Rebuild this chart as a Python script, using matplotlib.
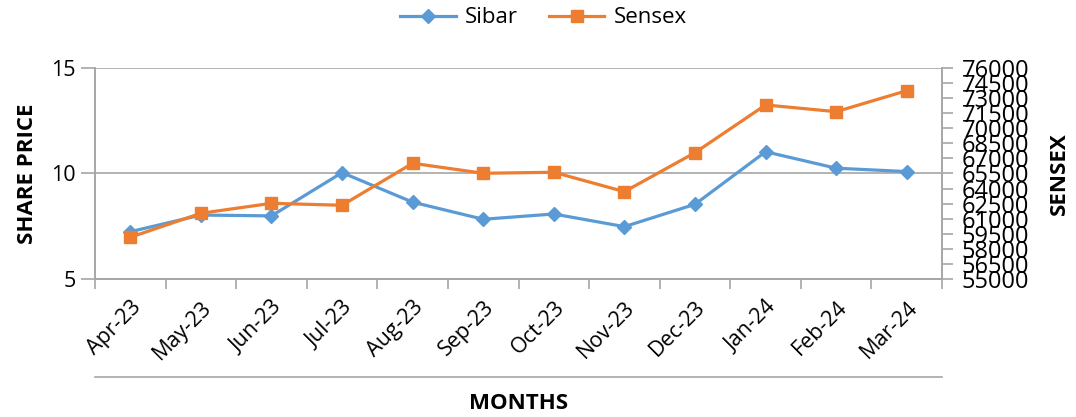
import numpy as np
import matplotlib.pyplot as plt
from matplotlib.lines import Line2D

plt.rcParams['font.family'] = ['Open Sans', 'DejaVu Sans']

months = ['Apr-23', 'May-23', 'Jun-23', 'Jul-23', 'Aug-23', 'Sep-23',
          'Oct-23', 'Nov-23', 'Dec-23', 'Jan-24', 'Feb-24', 'Mar-24']
sibar = [7.24, 8.03, 7.99, 10.04, 8.64, 7.83, 8.08, 7.48, 8.54, 11.03, 10.25, 10.09]
sensex = [59150, 61540, 62530, 62335, 66515, 65520, 65620, 63690, 67570, 72320, 71650, 73740]

blue = '#5B9BD5'
orange = '#ED7D31'
grey = '#A6A6A6'

fig = plt.figure(figsize=(10.76, 4.17), dpi=100)
ax = fig.add_axes([0.0883, 0.331, 0.7872, 0.506])
ax2 = ax.twinx()

x = np.arange(len(months))
l1, = ax.plot(x, sibar, color=blue, lw=2.3, marker='D', markersize=7.5, label='Sibar')
l2, = ax2.plot(x, sensex, color=orange, lw=2.3, marker='s', markersize=9, label='Sensex')

ax.set_xlim(-0.5, len(months) - 0.5)
ax.set_ylim(5, 15)
ax.set_yticks([5, 10, 15])
ax.yaxis.grid(True, color=grey, lw=1.2)
ax.set_axisbelow(True)

ax2.set_ylim(55000, 76000)
ax2.set_yticks(np.arange(55000, 76001, 1500))

# category ticks at boundaries, labels at centers
ax.set_xticks(x)
ax.set_xticklabels(months, rotation=45, ha='right', rotation_mode='anchor')
ax.set_xticks(np.arange(-0.5, len(months), 1), minor=True)
ax.tick_params(axis='x', which='major', length=0, pad=13, labelsize=15.5)
ax.tick_params(axis='x', which='minor', length=7, color=grey, width=1.2)
ax.tick_params(axis='y', length=10, color=grey, width=1.2, labelsize=15.5, pad=4)
ax2.tick_params(axis='y', length=8, color=grey, width=1.2, labelsize=17, pad=6)

for a in (ax, ax2):
    a.spines['top'].set_visible(False)
    for s in ('left', 'right', 'bottom'):
        a.spines[s].set_color(grey)
        a.spines[s].set_linewidth(1.2)

ax.set_ylabel('SHARE PRICE', fontsize=16, fontweight='bold', labelpad=9)
ax2.set_ylabel('SENSEX', fontsize=16, fontweight='bold', labelpad=14)
fig.text(0.482, 0.033, 'MONTHS', fontsize=16, fontweight='bold', ha='center', va='center')

fig.add_artist(Line2D([0.0883, 0.8755], [0.096, 0.096], color=grey, lw=1.2))

fig.legend(handles=[l1, l2], loc='center', bbox_to_anchor=(0.505, 0.957), ncol=2,
           frameon=False, fontsize=16, handlelength=2.5, columnspacing=1.4, handletextpad=0.4)

fig.savefig('out.png', dpi=100)
